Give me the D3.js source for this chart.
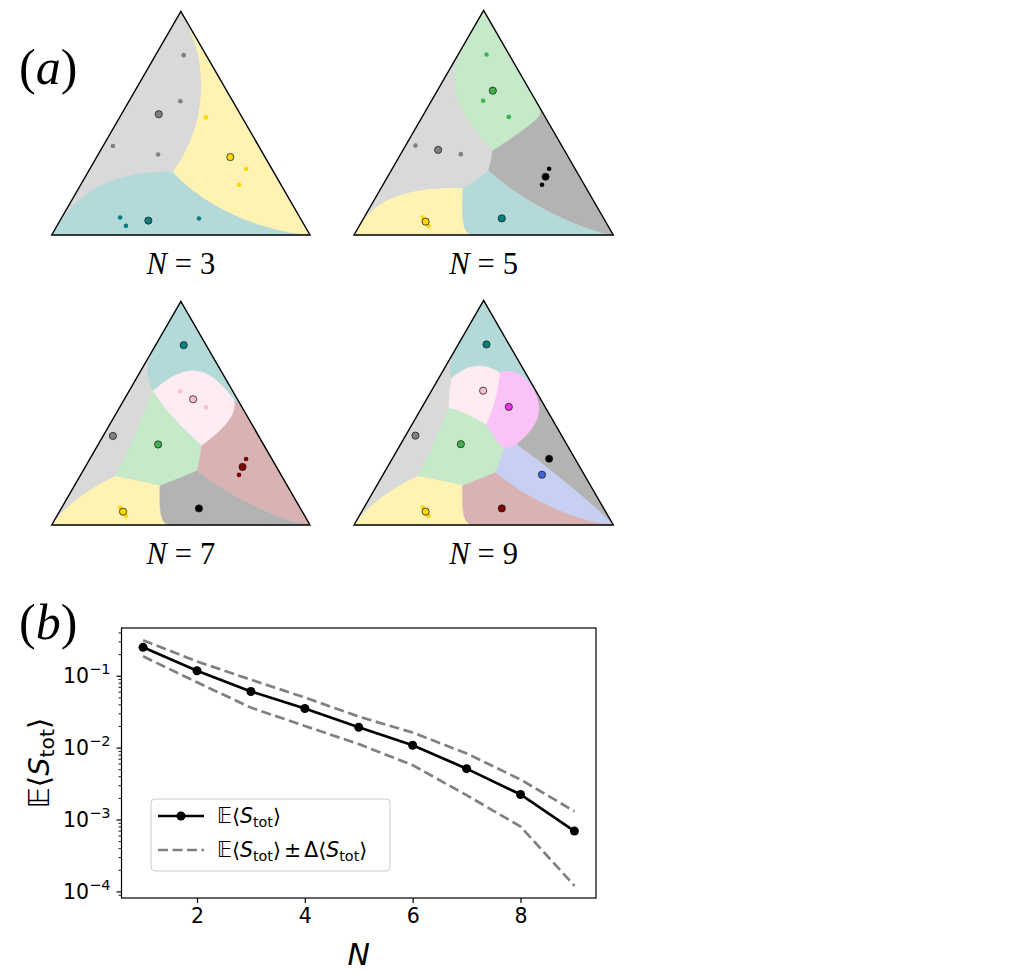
<!DOCTYPE html>
<html><head><meta charset="utf-8">
<script src="https://cdn.jsdelivr.net/npm/d3@7"></script>
<style>body{margin:0;background:#fff} svg{display:block}</style>
</head><body>
<svg id="fig" width="1030" height="972"></svg>
<script>
// ---------- DATA ----------
// sample points in the simplex, barycentric [p_bottomLeft, p_bottomRight, p_top]
const samples = [
  [0.087, 0.109, 0.804],
  [0.203, 0.199, 0.598],
  [0.140, 0.334, 0.526],
  [0.564, 0.038, 0.398],
  [0.408, 0.232, 0.360],
  [0.100, 0.605, 0.295],
  [0.163, 0.613, 0.224],
  [0.696, 0.226, 0.078],
  [0.692, 0.267, 0.041],
  [0.393, 0.533, 0.074]
];
const panelNs = [3, 5, 7, 9];
// cluster label of every sample, per N
const labels3 = [0, 0, 1, 0, 0, 1, 1, 2, 2, 2];
const labels5 = [0, 0, 0, 1, 1, 2, 2, 3, 3, 4];
const labels7 = [0, 1, 1, 2, 3, 4, 4, 5, 5, 6];
const labels9 = [0, 1, 2, 3, 4, 5, 6, 7, 7, 8];
const colors3 = ["#808080", "#ffd700", "#008080"];
const colors5 = ["#3cb44b", "#808080", "#000000", "#ffd700", "#008080"];
const colors7 = ["#008080", "#fabed4", "#808080", "#3cb44b", "#800000", "#ffd700", "#000000"];
const colors9 = ["#008080", "#fabed4", "#f032e6", "#808080", "#3cb44b", "#000000", "#4363d8", "#ffd700", "#800000"];

// panel (b)
const Nvals = [1, 2, 3, 4, 5, 6, 7, 8, 9];
const meanS  = [0.248, 0.117, 0.0604, 0.035, 0.0192, 0.0108, 0.0051, 0.00223, 0.00069];
const upperS = [0.311, 0.158, 0.088, 0.0498, 0.027, 0.0162, 0.0083, 0.0036, 0.0013];
const lowerS = [0.186, 0.081, 0.036, 0.020, 0.0112, 0.0057, 0.00218, 0.0008, 0.00012];
const yTickExps = [-1, -2, -3, -4];
const xTicks = [2, 4, 6, 8];

// ---------- DRAW ----------
const svg = d3.select("#fig");
const serif = "'Liberation Serif','DejaVu Serif',serif";
const sans = "'DejaVu Sans',sans-serif";
const R3 = Math.sqrt(3) / 2;

const panels = [
  {N: 3, labels: labels3, colors: colors3, x0: 51.7, x1: 310, yb: 235, ly: 274},
  {N: 5, labels: labels5, colors: colors5, x0: 354, x1: 613.3, yb: 235, ly: 274},
  {N: 7, labels: labels7, colors: colors7, x0: 51.7, x1: 310, yb: 525, ly: 564},
  {N: 9, labels: labels9, colors: colors9, x0: 354, x1: 613.3, yb: 525, ly: 564}
];

const e1 = [1 / Math.SQRT2, -1 / Math.SQRT2, 0];
const e2 = [1 / Math.sqrt(6), 1 / Math.sqrt(6), -2 / Math.sqrt(6)];
const dot = (a, b) => a[0] * b[0] + a[1] * b[1] + a[2] * b[2];

function clipHalf(poly, A, B) {
  const out = [];
  const n = poly.length;
  for (let i = 0; i < n; i++) {
    const P = poly[i], Q = poly[(i + 1) % n];
    const fp = A[0] * P[0] + A[1] * P[1] + B;
    const fq = A[0] * Q[0] + A[1] * Q[1] + B;
    if (fp >= 0) out.push(P);
    if ((fp >= 0) !== (fq >= 0)) {
      const t = fp / (fp - fq);
      out.push([P[0] + t * (Q[0] - P[0]), P[1] + t * (Q[1] - P[1])]);
    }
  }
  return out;
}
function zToP(z) {
  const c = [0, 1, 2].map(i => z[0] * e1[i] + z[1] * e2[i]);
  const m = Math.max(...c);
  const ex = c.map(v => Math.exp(v - m));
  const s = ex[0] + ex[1] + ex[2];
  return ex.map(v => v / s);
}

const defs = svg.append("defs");

panels.forEach((pn, pi) => {
  const side = pn.x1 - pn.x0;
  const sx = d3.scaleLinear().domain([0, 1]).range([pn.x0, pn.x1]);
  const sy = d3.scaleLinear().domain([0, R3]).range([pn.yb, pn.yb - side * R3]);
  const toXY = p => [sx(p[1] + p[2] / 2), sy(p[2] * R3)];
  const K = pn.colors.length;
  // cluster centres = mean of member samples
  const centers = d3.range(K).map(k => {
    const mem = samples.filter((s, i) => pn.labels[i] === k);
    return [0, 1, 2].map(j => d3.mean(mem, m => m[j]));
  });
  const a = centers.map(c => [dot(c, e1), dot(c, e2)]);
  const Hs = centers.map(c => -d3.sum(c, v => v * Math.log(v)));

  const tri = [[1, 0, 0], [0, 1, 0], [0, 0, 1]].map(toXY);
  defs.append("clipPath").attr("id", "tri" + pi)
    .append("path").attr("d", "M" + tri.map(p => p.join(",")).join("L") + "Z");

  const g = svg.append("g");
  const cellG = g.append("g").attr("clip-path", `url(#tri${pi})`);
  const Rb = 16;
  for (let k = 0; k < K; k++) {
    let poly = [[-Rb, -Rb], [Rb, -Rb], [Rb, Rb], [-Rb, Rb]];
    for (let j = 0; j < K; j++) {
      if (j === k) continue;
      poly = clipHalf(poly, [a[k][0] - a[j][0], a[k][1] - a[j][1]], Hs[k] - Hs[j]);
      if (poly.length < 3) break;
    }
    if (poly.length < 3) continue;
    const pts = [];
    for (let i = 0; i < poly.length; i++) {
      const P = poly[i], Q = poly[(i + 1) % poly.length];
      const L = Math.hypot(Q[0] - P[0], Q[1] - P[1]);
      const n = Math.max(1, Math.ceil(L / 0.03));
      for (let t = 0; t < n; t++) {
        const z = [P[0] + (Q[0] - P[0]) * t / n, P[1] + (Q[1] - P[1]) * t / n];
        pts.push(toXY(zToP(z)));
      }
    }
    const fill = d3.interpolateRgb("#ffffff", pn.colors[k])(0.3);
    cellG.append("path")
      .attr("d", d3.line()(pts) + "Z")
      .attr("fill", fill).attr("stroke", fill).attr("stroke-width", 0.6);
  }
  // triangle outline
  g.append("path").attr("d", "M" + tri.map(p => p.join(",")).join("L") + "Z")
    .attr("fill", "none").attr("stroke", "#000").attr("stroke-width", 1.4)
    .attr("stroke-linejoin", "miter");
  // samples
  g.selectAll("circle.s").data(samples).join("circle").attr("class", "s")
    .attr("cx", d => toXY(d)[0]).attr("cy", d => toXY(d)[1]).attr("r", 2.3)
    .attr("fill", (d, i) => pn.colors[pn.labels[i]]);
  // centres
  g.selectAll("circle.c").data(centers).join("circle").attr("class", "c")
    .attr("cx", d => toXY(d)[0]).attr("cy", d => toXY(d)[1]).attr("r", 3.6)
    .attr("fill", (d, k) => pn.colors[k]).attr("stroke", "#222").attr("stroke-width", 0.8);
  // label
  const t = g.append("text").attr("x", (pn.x0 + pn.x1) / 2).attr("y", pn.ly)
    .attr("text-anchor", "middle").attr("font-family", serif).attr("font-size", 30.5);
  t.append("tspan").attr("font-style", "italic").text("N");
  t.append("tspan").attr("dx", 8).text("=");
  t.append("tspan").attr("dx", 8).text(pn.N);
});

// panel letters
function letter(x, y, ch) {
  const t = svg.append("text").attr("x", x).attr("y", y).attr("font-family", serif).attr("font-size", 50);
  t.append("tspan").text("(");
  t.append("tspan").attr("font-style", "italic").text(ch);
  t.append("tspan").text(")");
}
letter(19, 84, "a");
letter(19, 639, "b");

// ---------- panel (b) ----------
const px0 = 121.5, px1 = 596, py0 = 628, py1 = 898;
const xmin = d3.min(Nvals), xmax = d3.max(Nvals), xm = 0.05 * (xmax - xmin);
const x = d3.scaleLinear().domain([xmin - xm, xmax + xm]).range([px0, px1]);
const lmin = Math.log10(d3.min(lowerS)), lmax = Math.log10(d3.max(upperS)), lm = 0.05 * (lmax - lmin);
const y = d3.scaleLog().domain([Math.pow(10, lmin - lm), Math.pow(10, lmax + lm)]).range([py1, py0]);

const pg = svg.append("g");
const line = d3.line().x((d, i) => x(Nvals[i])).y(d => y(d));
[lowerS, upperS].forEach(arr => {
  pg.append("path").attr("d", line(arr)).attr("fill", "none")
    .attr("stroke", "#808080").attr("stroke-width", 2.7).attr("stroke-dasharray", "10,4.5");
});
pg.append("path").attr("d", line(meanS)).attr("fill", "none")
  .attr("stroke", "#000").attr("stroke-width", 2.7);
pg.selectAll("circle").data(meanS).join("circle")
  .attr("cx", (d, i) => x(Nvals[i])).attr("cy", d => y(d)).attr("r", 4.5).attr("fill", "#000");

// axes frame
pg.append("rect").attr("x", px0).attr("y", py0).attr("width", px1 - px0).attr("height", py1 - py0)
  .attr("fill", "none").attr("stroke", "#000").attr("stroke-width", 1.2);

// x axis
const xAxis = pg.append("g").attr("transform", `translate(0,${py1})`)
  .call(d3.axisBottom(x).tickValues(xTicks).tickSize(5).tickPadding(5).tickFormat(d3.format("d")));
xAxis.select(".domain").remove();
xAxis.selectAll("line").attr("stroke-width", 1.2);
xAxis.selectAll("text").attr("font-family", sans).attr("font-size", 20.5).attr("fill", "#000");

// y axis major
const majors = yTickExps.map(e => Math.pow(10, e));
const yAxis = pg.append("g").attr("transform", `translate(${px0},0)`)
  .call(d3.axisLeft(y).tickValues(majors).tickSize(5).tickPadding(6).tickFormat(() => ""));
yAxis.select(".domain").remove();
yAxis.selectAll("line").attr("stroke-width", 1.2);
yAxis.selectAll(".tick text").each(function(d, i) {
  const t = d3.select(this).attr("font-family", sans).attr("font-size", 20.5).attr("fill", "#000").attr("dy", "0.35em");
  t.append("tspan").text("10");
  t.append("tspan").attr("font-size", 14.5).attr("dy", "-0.62em").text("\u2212" + (-yTickExps[i]));
});
// y axis minor
const [d0, d1] = y.domain();
const minors = [];
for (let e = Math.floor(Math.log10(d0)); e <= Math.ceil(Math.log10(d1)); e++) {
  for (let m = 2; m <= 9; m++) {
    const v = m * Math.pow(10, e);
    if (v >= d0 && v <= d1) minors.push(v);
  }
}
const yMinor = pg.append("g").attr("transform", `translate(${px0},0)`)
  .call(d3.axisLeft(y).tickValues(minors).tickSize(3).tickFormat(() => ""));
yMinor.select(".domain").remove();
yMinor.selectAll("line").attr("stroke-width", 0.9);

// axis labels
svg.append("text").attr("x", (px0 + px1) / 2).attr("y", 965).attr("text-anchor", "middle")
  .attr("font-family", sans).attr("font-size", 30).attr("font-style", "italic").text("N");
function expLabel(sel, size, withDelta) {
  const sub = size * 0.7;
  sel.append("tspan").text("\uD835\uDD3C\u27E8");
  sel.append("tspan").attr("font-style", "italic").text("S");
  sel.append("tspan").attr("font-size", sub).attr("dy", size * 0.18).text("tot");
  sel.append("tspan").attr("dy", -size * 0.18).text("\u27E9");
  if (withDelta) {
    sel.append("tspan").attr("dx", 3).text("\u00B1");
    sel.append("tspan").attr("dx", 3).text("\u0394\u27E8");
    sel.append("tspan").attr("font-style", "italic").text("S");
    sel.append("tspan").attr("font-size", sub).attr("dy", size * 0.18).text("tot");
    sel.append("tspan").attr("dy", -size * 0.18).text("\u27E9");
  }
}
const yl = svg.append("text").attr("transform", "translate(49,763) rotate(-90)")
  .attr("text-anchor", "middle").attr("font-family", sans).attr("font-size", 29);
expLabel(yl, 29, false);

// legend
const lg = svg.append("g");
lg.append("rect").attr("x", 151).attr("y", 799).attr("width", 239).attr("height", 72).attr("rx", 4)
  .attr("fill", "#fff").attr("fill-opacity", 0.8).attr("stroke", "#cccccc").attr("stroke-width", 1);
lg.append("line").attr("x1", 158).attr("x2", 204).attr("y1", 816).attr("y2", 816)
  .attr("stroke", "#000").attr("stroke-width", 2.7);
lg.append("circle").attr("cx", 181).attr("cy", 816).attr("r", 4.5).attr("fill", "#000");
lg.append("line").attr("x1", 158).attr("x2", 204).attr("y1", 850).attr("y2", 850)
  .attr("stroke", "#808080").attr("stroke-width", 2.7).attr("stroke-dasharray", "10,4.5");
const lt1 = lg.append("text").attr("x", 217).attr("y", 823).attr("font-family", sans).attr("font-size", 20.5);
expLabel(lt1, 20.5, false);
const lt2 = lg.append("text").attr("x", 217).attr("y", 857).attr("font-family", sans).attr("font-size", 20.5);
expLabel(lt2, 20.5, true);
</script>
</body></html>
